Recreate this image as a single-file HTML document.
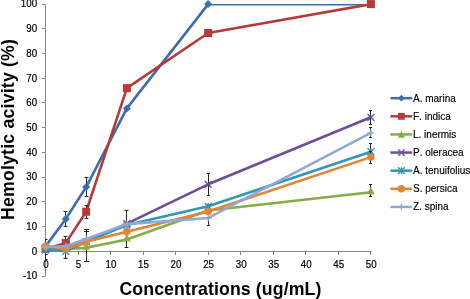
<!DOCTYPE html>
<html><head><meta charset="utf-8"><title>Hemolytic activity</title>
<style>
html,body{margin:0;padding:0;background:#fff;}
body{width:470px;height:299px;overflow:hidden;}
svg{display:block;will-change:transform;opacity:0.999;}
text{font-family:"Liberation Sans",Arial,Helvetica,sans-serif;fill:#000;}
.tk{font-size:10.1px;stroke:#000;stroke-width:0.2px;}
.lg{font-size:10px;font-kerning:none;stroke:#000;stroke-width:0.15px;}
.ti{font-size:17.7px;font-weight:bold;}
</style></head><body>
<svg width="470" height="299" viewBox="0 0 470 299">
<rect width="470" height="299" fill="#fff"/>
<defs><clipPath id="pe"><rect x="45" y="0" width="400" height="299"/></clipPath><clipPath id="pa"><rect x="45.5" y="4.1" width="400" height="272"/></clipPath></defs>

<g stroke="#868686" stroke-width="1" fill="none">
<path d="M45.5 4.10V276.02"/>
<path d="M45.5 251.5H371.40"/>
<path d="M42.0 276.50H45.5"/>
<path d="M42.0 251.50H45.5"/>
<path d="M42.0 226.50H45.5"/>
<path d="M42.0 201.50H45.5"/>
<path d="M42.0 177.50H45.5"/>
<path d="M42.0 152.50H45.5"/>
<path d="M42.0 127.50H45.5"/>
<path d="M42.0 102.50H45.5"/>
<path d="M42.0 78.50H45.5"/>
<path d="M42.0 53.50H45.5"/>
<path d="M42.0 28.50H45.5"/>
<path d="M42.0 4.50H45.5"/>
<path d="M45.50 251.5V255"/>
<path d="M78.50 251.5V255"/>
<path d="M110.50 251.5V255"/>
<path d="M143.50 251.5V255"/>
<path d="M175.50 251.5V255"/>
<path d="M208.50 251.5V255"/>
<path d="M240.50 251.5V255"/>
<path d="M273.50 251.5V255"/>
<path d="M305.50 251.5V255"/>
<path d="M338.50 251.5V255"/>
<path d="M370.50 251.5V255"/>
</g>
<text class="tk" transform="translate(37.2 279.32) scale(0.97 1)" text-anchor="end">-10</text>
<text class="tk" transform="translate(37.2 254.60) scale(0.97 1)" text-anchor="end">0</text>
<text class="tk" transform="translate(37.2 229.88) scale(0.97 1)" text-anchor="end">10</text>
<text class="tk" transform="translate(37.2 205.16) scale(0.97 1)" text-anchor="end">20</text>
<text class="tk" transform="translate(37.2 180.44) scale(0.97 1)" text-anchor="end">30</text>
<text class="tk" transform="translate(37.2 155.72) scale(0.97 1)" text-anchor="end">40</text>
<text class="tk" transform="translate(37.2 131.00) scale(0.97 1)" text-anchor="end">50</text>
<text class="tk" transform="translate(37.2 106.28) scale(0.97 1)" text-anchor="end">60</text>
<text class="tk" transform="translate(37.2 81.56) scale(0.97 1)" text-anchor="end">70</text>
<text class="tk" transform="translate(37.2 56.84) scale(0.97 1)" text-anchor="end">80</text>
<text class="tk" transform="translate(37.2 32.12) scale(0.97 1)" text-anchor="end">90</text>
<text class="tk" transform="translate(37.2 7.40) scale(0.97 1)" text-anchor="end">100</text>
<text class="tk" transform="translate(45.90 267.7) scale(0.97 1)" text-anchor="middle">0</text>
<text class="tk" transform="translate(78.44 267.7) scale(0.97 1)" text-anchor="middle">5</text>
<text class="tk" transform="translate(110.98 267.7) scale(0.97 1)" text-anchor="middle">10</text>
<text class="tk" transform="translate(143.52 267.7) scale(0.97 1)" text-anchor="middle">15</text>
<text class="tk" transform="translate(176.06 267.7) scale(0.97 1)" text-anchor="middle">20</text>
<text class="tk" transform="translate(208.60 267.7) scale(0.97 1)" text-anchor="middle">25</text>
<text class="tk" transform="translate(241.14 267.7) scale(0.97 1)" text-anchor="middle">30</text>
<text class="tk" transform="translate(273.68 267.7) scale(0.97 1)" text-anchor="middle">35</text>
<text class="tk" transform="translate(306.22 267.7) scale(0.97 1)" text-anchor="middle">40</text>
<text class="tk" transform="translate(338.76 267.7) scale(0.97 1)" text-anchor="middle">45</text>
<text class="tk" transform="translate(371.30 267.7) scale(0.97 1)" text-anchor="middle">50</text>
<text class="ti" style="letter-spacing:0.2px" transform="translate(13.6 220) rotate(-90)">Hemolytic acivity (%)</text>
<text class="ti" style="letter-spacing:0.12px" x="119.4" y="295">Concentrations (ug/mL)</text>
<polyline points="45.50,246.36 65.84,218.92 86.17,187.03 126.85,108.42 208.20,4.10 370.90,4.10" fill="none" stroke="#3C6DB0" stroke-width="2.6" stroke-linejoin="round" stroke-linecap="round" clip-path="url(#pa)"/>
<path d="M65.50 211.5V226.5M63.50 211.5H67.50M63.50 226.5H67.50" stroke="#262626" stroke-width="1" fill="none" clip-path="url(#pe)"/>
<path d="M86.50 177.5V196.5M84.50 177.5H88.50M84.50 196.5H88.50" stroke="#262626" stroke-width="1" fill="none" clip-path="url(#pe)"/>
<path d="M45.50 239.5V254.5M43.50 239.5H47.50M43.50 254.5H47.50" stroke="#262626" stroke-width="1" fill="none" clip-path="url(#pe)"/>
<path d="M45.50 254.5V259.5M43.50 254.5H47.50M43.50 259.5H47.50" stroke="#262626" stroke-width="1" fill="none" clip-path="url(#pe)"/>
<path d="M45.50 242.36L49.50 246.36L45.50 250.36L41.50 246.36Z" fill="#3C6DB0"/>
<path d="M65.84 214.92L69.84 218.92L65.84 222.92L61.84 218.92Z" fill="#3C6DB0"/>
<path d="M86.17 183.03L90.17 187.03L86.17 191.03L82.17 187.03Z" fill="#3C6DB0"/>
<path d="M126.85 104.42L130.85 108.42L126.85 112.42L122.85 108.42Z" fill="#3C6DB0"/>
<path d="M208.20 0.10L212.20 4.10L208.20 8.10L204.20 4.10Z" fill="#3C6DB0"/>
<path d="M370.90 0.10L374.90 4.10L370.90 8.10L366.90 4.10Z" fill="#3C6DB0"/>
<polyline points="45.50,249.08 65.84,242.90 86.17,211.75 126.85,88.15 208.20,33.02 370.90,4.10" fill="none" stroke="#B53A38" stroke-width="2.6" stroke-linejoin="round" stroke-linecap="round" clip-path="url(#pa)"/>
<path d="M65.50 236.5V247.5M63.50 236.5H67.50M63.50 247.5H67.50" stroke="#262626" stroke-width="1" fill="none" clip-path="url(#pe)"/>
<path d="M86.50 205.5V218.5M84.50 205.5H88.50M84.50 218.5H88.50" stroke="#262626" stroke-width="1" fill="none" clip-path="url(#pe)"/>
<rect x="41.50" y="245.08" width="8.0" height="8.0" fill="#B53A38"/>
<rect x="61.84" y="238.90" width="8.0" height="8.0" fill="#B53A38"/>
<rect x="82.17" y="207.75" width="8.0" height="8.0" fill="#B53A38"/>
<rect x="122.85" y="84.15" width="8.0" height="8.0" fill="#B53A38"/>
<rect x="204.20" y="29.02" width="8.0" height="8.0" fill="#B53A38"/>
<rect x="366.90" y="0.10" width="8.0" height="8.0" fill="#B53A38"/>
<polyline points="45.50,248.83 65.84,248.83 86.17,247.84 126.85,239.43 208.20,210.51 370.90,192.22" fill="none" stroke="#86AC44" stroke-width="2.6" stroke-linejoin="round" stroke-linecap="round" clip-path="url(#pa)"/>
<path d="M86.50 231.5V261.5M84.00 231.5H89.00M84.00 261.5H89.00" stroke="#262626" stroke-width="1" fill="none" clip-path="url(#pe)"/>
<path d="M126.50 231.5V247.5M124.50 231.5H128.50M124.50 247.5H128.50" stroke="#262626" stroke-width="1" fill="none" clip-path="url(#pe)"/>
<path d="M370.50 184.5V196.5M369.00 184.5H372.00M369.00 196.5H372.00" stroke="#262626" stroke-width="1" fill="none" clip-path="url(#pe)"/>
<path d="M45.50 243.43L49.30 250.83L41.70 250.83Z" fill="#86AC44"/>
<path d="M65.84 243.43L69.64 250.83L62.04 250.83Z" fill="#86AC44"/>
<path d="M86.17 242.44L89.97 249.84L82.38 249.84Z" fill="#86AC44"/>
<path d="M126.85 234.03L130.65 241.43L123.05 241.43Z" fill="#86AC44"/>
<path d="M208.20 205.11L212.00 212.51L204.40 212.51Z" fill="#86AC44"/>
<path d="M370.90 186.82L374.70 194.22L367.10 194.22Z" fill="#86AC44"/>
<polyline points="45.50,248.83 65.84,247.59 86.17,241.66 126.85,223.61 208.20,184.31 370.90,117.32" fill="none" stroke="#6E4F97" stroke-width="2.6" stroke-linejoin="round" stroke-linecap="round" clip-path="url(#pa)"/>
<path d="M86.50 229.5V243.5M84.00 229.5H89.00M84.00 243.5H89.00" stroke="#262626" stroke-width="1" fill="none" clip-path="url(#pe)"/>
<path d="M126.50 210.5V232.5M124.50 210.5H128.50M124.50 232.5H128.50" stroke="#262626" stroke-width="1" fill="none" clip-path="url(#pe)"/>
<path d="M208.50 173.5V195.5M207.00 173.5H210.00M207.00 195.5H210.00" stroke="#262626" stroke-width="1" fill="none" clip-path="url(#pe)"/>
<path d="M370.50 110.5V124.5M369.00 110.5H372.00M369.00 124.5H372.00" stroke="#262626" stroke-width="1" fill="none" clip-path="url(#pe)"/>
<path d="M42.10 245.43L48.90 252.23M42.10 252.23L48.90 245.43" stroke="#6E4F97" stroke-width="1.4" fill="none"/>
<path d="M62.44 244.19L69.24 250.99M62.44 250.99L69.24 244.19" stroke="#6E4F97" stroke-width="1.4" fill="none"/>
<path d="M82.77 238.26L89.58 245.06M82.77 245.06L89.58 238.26" stroke="#6E4F97" stroke-width="1.4" fill="none"/>
<path d="M123.45 220.21L130.25 227.01M123.45 227.01L130.25 220.21" stroke="#6E4F97" stroke-width="1.4" fill="none"/>
<path d="M204.80 180.91L211.60 187.71M204.80 187.71L211.60 180.91" stroke="#6E4F97" stroke-width="1.4" fill="none"/>
<path d="M367.50 113.92L374.30 120.72M367.50 120.72L374.30 113.92" stroke="#6E4F97" stroke-width="1.4" fill="none"/>
<polyline points="45.50,249.82 65.84,251.30 86.17,241.91 126.85,225.10 208.20,206.31 370.90,151.68" fill="none" stroke="#3497B2" stroke-width="2.6" stroke-linejoin="round" stroke-linecap="round" clip-path="url(#pa)"/>
<path d="M65.50 247.5V258.5M63.50 247.5H67.50M63.50 258.5H67.50" stroke="#262626" stroke-width="1" fill="none" clip-path="url(#pe)"/>
<path d="M208.50 204.5V207.5M207.00 204.5H210.00M207.00 207.5H210.00" stroke="#262626" stroke-width="1" fill="none" clip-path="url(#pe)"/>
<path d="M370.50 143.5V151.5M369.00 143.5H372.00M369.00 151.5H372.00" stroke="#262626" stroke-width="1" fill="none" clip-path="url(#pe)"/>
<path d="M42.10 246.42L48.90 253.22M42.10 253.22L48.90 246.42M45.50 246.42L45.50 253.22" stroke="#3497B2" stroke-width="1.4" fill="none"/>
<path d="M62.44 247.90L69.24 254.70M62.44 254.70L69.24 247.90M65.84 247.90L65.84 254.70" stroke="#3497B2" stroke-width="1.4" fill="none"/>
<path d="M82.77 238.51L89.58 245.31M82.77 245.31L89.58 238.51M86.17 238.51L86.17 245.31" stroke="#3497B2" stroke-width="1.4" fill="none"/>
<path d="M123.45 221.70L130.25 228.50M123.45 228.50L130.25 221.70M126.85 221.70L126.85 228.50" stroke="#3497B2" stroke-width="1.4" fill="none"/>
<path d="M204.80 202.91L211.60 209.71M204.80 209.71L211.60 202.91M208.20 202.91L208.20 209.71" stroke="#3497B2" stroke-width="1.4" fill="none"/>
<path d="M367.50 148.28L374.30 155.08M367.50 155.08L374.30 148.28M370.90 148.28L370.90 155.08" stroke="#3497B2" stroke-width="1.4" fill="none"/>
<polyline points="45.50,246.11 65.84,249.08 86.17,241.66 126.85,231.77 208.20,211.50 370.90,157.12" fill="none" stroke="#E48432" stroke-width="2.6" stroke-linejoin="round" stroke-linecap="round" clip-path="url(#pa)"/>
<path d="M370.50 151.5V163.5M369.00 151.5H372.00M369.00 163.5H372.00" stroke="#262626" stroke-width="1" fill="none" clip-path="url(#pe)"/>
<circle cx="45.50" cy="246.11" r="3.70" fill="#E48432"/>
<circle cx="65.84" cy="249.08" r="3.70" fill="#E48432"/>
<circle cx="86.17" cy="241.66" r="3.70" fill="#E48432"/>
<circle cx="126.85" cy="231.77" r="3.70" fill="#E48432"/>
<circle cx="208.20" cy="211.50" r="3.70" fill="#E48432"/>
<circle cx="370.90" cy="157.12" r="3.70" fill="#E48432"/>
<polyline points="45.50,247.34 65.84,246.11 86.17,238.94 126.85,224.11 208.20,217.93 370.90,132.89" fill="none" stroke="#8FA9D8" stroke-width="2.6" stroke-linejoin="round" stroke-linecap="round" clip-path="url(#pa)"/>
<path d="M208.50 217.5V225.5M207.00 217.5H210.00M207.00 225.5H210.00" stroke="#262626" stroke-width="1" fill="none" clip-path="url(#pe)"/>
<path d="M370.50 127.5V137.5M369.00 127.5H372.00M369.00 137.5H372.00" stroke="#262626" stroke-width="1" fill="none" clip-path="url(#pe)"/>
<path d="M42.10 247.34L48.90 247.34M45.50 243.94L45.50 250.74" stroke="#8FA9D8" stroke-width="1.4" fill="none"/>
<path d="M62.44 246.11L69.24 246.11M65.84 242.71L65.84 249.51" stroke="#8FA9D8" stroke-width="1.4" fill="none"/>
<path d="M82.77 238.94L89.58 238.94M86.17 235.54L86.17 242.34" stroke="#8FA9D8" stroke-width="1.4" fill="none"/>
<path d="M123.45 224.11L130.25 224.11M126.85 220.71L126.85 227.51" stroke="#8FA9D8" stroke-width="1.4" fill="none"/>
<path d="M204.80 217.93L211.60 217.93M208.20 214.53L208.20 221.33" stroke="#8FA9D8" stroke-width="1.4" fill="none"/>
<path d="M367.50 132.89L374.30 132.89M370.90 129.49L370.90 136.29" stroke="#8FA9D8" stroke-width="1.4" fill="none"/>
<path d="M390.4 98.20H412.2" stroke="#3C6DB0" stroke-width="2.5"/>
<path d="M401.40 94.80L404.80 98.20L401.40 101.60L398.00 98.20Z" fill="#3C6DB0"/>
<text class="lg" x="413" y="101.70">A. marina</text>
<path d="M390.4 116.32H412.2" stroke="#B53A38" stroke-width="2.5"/>
<rect x="398.00" y="112.92" width="6.8" height="6.8" fill="#B53A38"/>
<text class="lg" x="413" y="119.82">F. indica</text>
<path d="M390.4 134.44H412.2" stroke="#86AC44" stroke-width="2.5"/>
<path d="M401.40 131.04L404.90 137.84L397.90 137.84Z" fill="#86AC44"/>
<text class="lg" x="413" y="137.94">L. inermis</text>
<path d="M390.4 152.56H412.2" stroke="#6E4F97" stroke-width="2.5"/>
<path d="M398.27 149.43L404.53 155.69M398.27 155.69L404.53 149.43" stroke="#6E4F97" stroke-width="1.4" fill="none"/>
<text class="lg" x="413" y="156.06">P. oleracea</text>
<path d="M390.4 170.68H412.2" stroke="#3497B2" stroke-width="2.5"/>
<path d="M398.00 167.28L404.80 174.08M398.00 174.08L404.80 167.28M401.40 167.28L401.40 174.08" stroke="#3497B2" stroke-width="1.4" fill="none"/>
<text class="lg" x="413" y="174.18">A. tenuifolius</text>
<path d="M390.4 188.80H412.2" stroke="#E48432" stroke-width="2.5"/>
<circle cx="401.40" cy="188.80" r="3.70" fill="#E48432"/>
<text class="lg" x="413" y="192.30">S. persica</text>
<path d="M390.4 206.92H412.2" stroke="#8FA9D8" stroke-width="2.5"/>
<path d="M398.27 206.92L404.53 206.92M401.40 203.79L401.40 210.05" stroke="#8FA9D8" stroke-width="1.4" fill="none"/>
<text class="lg" x="413" y="210.42">Z. spina</text>
</svg></body></html>
